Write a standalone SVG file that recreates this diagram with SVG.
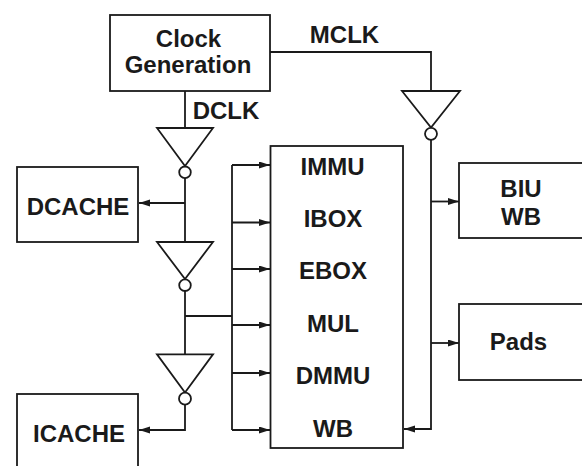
<svg xmlns="http://www.w3.org/2000/svg" width="582" height="466" viewBox="0 0 582 466">
<style>
.box{fill:#fff;stroke:#1a1a1a;stroke-width:1.8}
.ln{fill:none;stroke:#1a1a1a;stroke-width:1.8}
.inv{fill:#fff;stroke:#1a1a1a;stroke-width:1.8;stroke-linejoin:miter}
text{font-family:"Liberation Sans",Arial,sans-serif;font-weight:bold;font-size:24px;fill:#1a1a1a;text-anchor:middle}
</style>
<defs>
<marker id="ah" markerUnits="userSpaceOnUse" markerWidth="12" markerHeight="8" refX="11" refY="3.5" orient="auto">
<path d="M0,0 L11,3.5 L0,7 z" fill="#1a1a1a"/>
</marker>
</defs>
<rect width="582" height="466" fill="#fff"/>
<g id="connectors">
<path class="ln" d="M185,91 V128"/>
<path class="ln" d="M270,52 H431 V91"/>
<path class="ln" d="M185,178 V242"/>
<path class="ln" d="M185,203 H139" marker-end="url(#ah)"/>
<path class="ln" d="M185,291 V354"/>
<path class="ln" d="M185,316 H232"/>
<path class="ln" d="M185,405 V430 H139" marker-end="url(#ah)"/>
<path class="ln" d="M232,165 V430"/>
<path class="ln" d="M232,165 H270" marker-end="url(#ah)"/>
<path class="ln" d="M232,222.5 H270" marker-end="url(#ah)"/>
<path class="ln" d="M232,269 H270" marker-end="url(#ah)"/>
<path class="ln" d="M232,325 H270" marker-end="url(#ah)"/>
<path class="ln" d="M232,373 H270" marker-end="url(#ah)"/>
<path class="ln" d="M232,430 H270" marker-end="url(#ah)"/>
<path class="ln" d="M431,140 V429 H404" marker-end="url(#ah)"/>
<path class="ln" d="M431,201.5 H459" marker-end="url(#ah)"/>
<path class="ln" d="M431,343 H459" marker-end="url(#ah)"/>
<text x="226" y="119">DCLK</text>
<text x="344.5" y="43">MCLK</text>
</g>
<g id="clockgen">
<rect class="box" x="110" y="15" width="160" height="76"/>
<text x="188.5" y="47">Clock</text>
<text x="188" y="73">Generation</text>
</g>
<g id="inv1">
<polygon class="inv" points="157,128 213,128 185,166"/>
<circle class="inv" cx="185" cy="172.3" r="5.8"/>
</g>
<g id="inv2">
<polygon class="inv" points="157,242 213,242 185,279"/>
<circle class="inv" cx="185" cy="285.2" r="5.8"/>
</g>
<g id="inv3">
<polygon class="inv" points="157,354.3 213,354.3 185,392.5"/>
<circle class="inv" cx="185" cy="398.7" r="6"/>
</g>
<g id="invm">
<polygon class="inv" points="402,91 460,91 431,127.5"/>
<circle class="inv" cx="431" cy="133.8" r="6"/>
</g>
<g id="dcache">
<rect class="box" x="17" y="167" width="121" height="75"/>
<text x="78" y="215">DCACHE</text>
</g>
<g id="icache">
<rect class="box" x="17" y="394" width="121" height="90"/>
<text x="79" y="442">ICACHE</text>
</g>
<g id="core">
<rect class="box" x="270.5" y="146" width="132.5" height="302"/>
<text x="332.5" y="175">IMMU</text>
<text x="333" y="227">IBOX</text>
<text x="333" y="279">EBOX</text>
<text x="333" y="331.5">MUL</text>
<text x="333" y="384">DMMU</text>
<text x="333" y="436.5">WB</text>
</g>
<g id="biu">
<rect class="box" x="459" y="163" width="140" height="75"/>
<text x="521" y="197">BIU</text>
<text x="521" y="225">WB</text>
</g>
<g id="pads">
<rect class="box" x="459" y="304" width="140" height="76"/>
<text x="518.5" y="350">Pads</text>
</g>
</svg>
